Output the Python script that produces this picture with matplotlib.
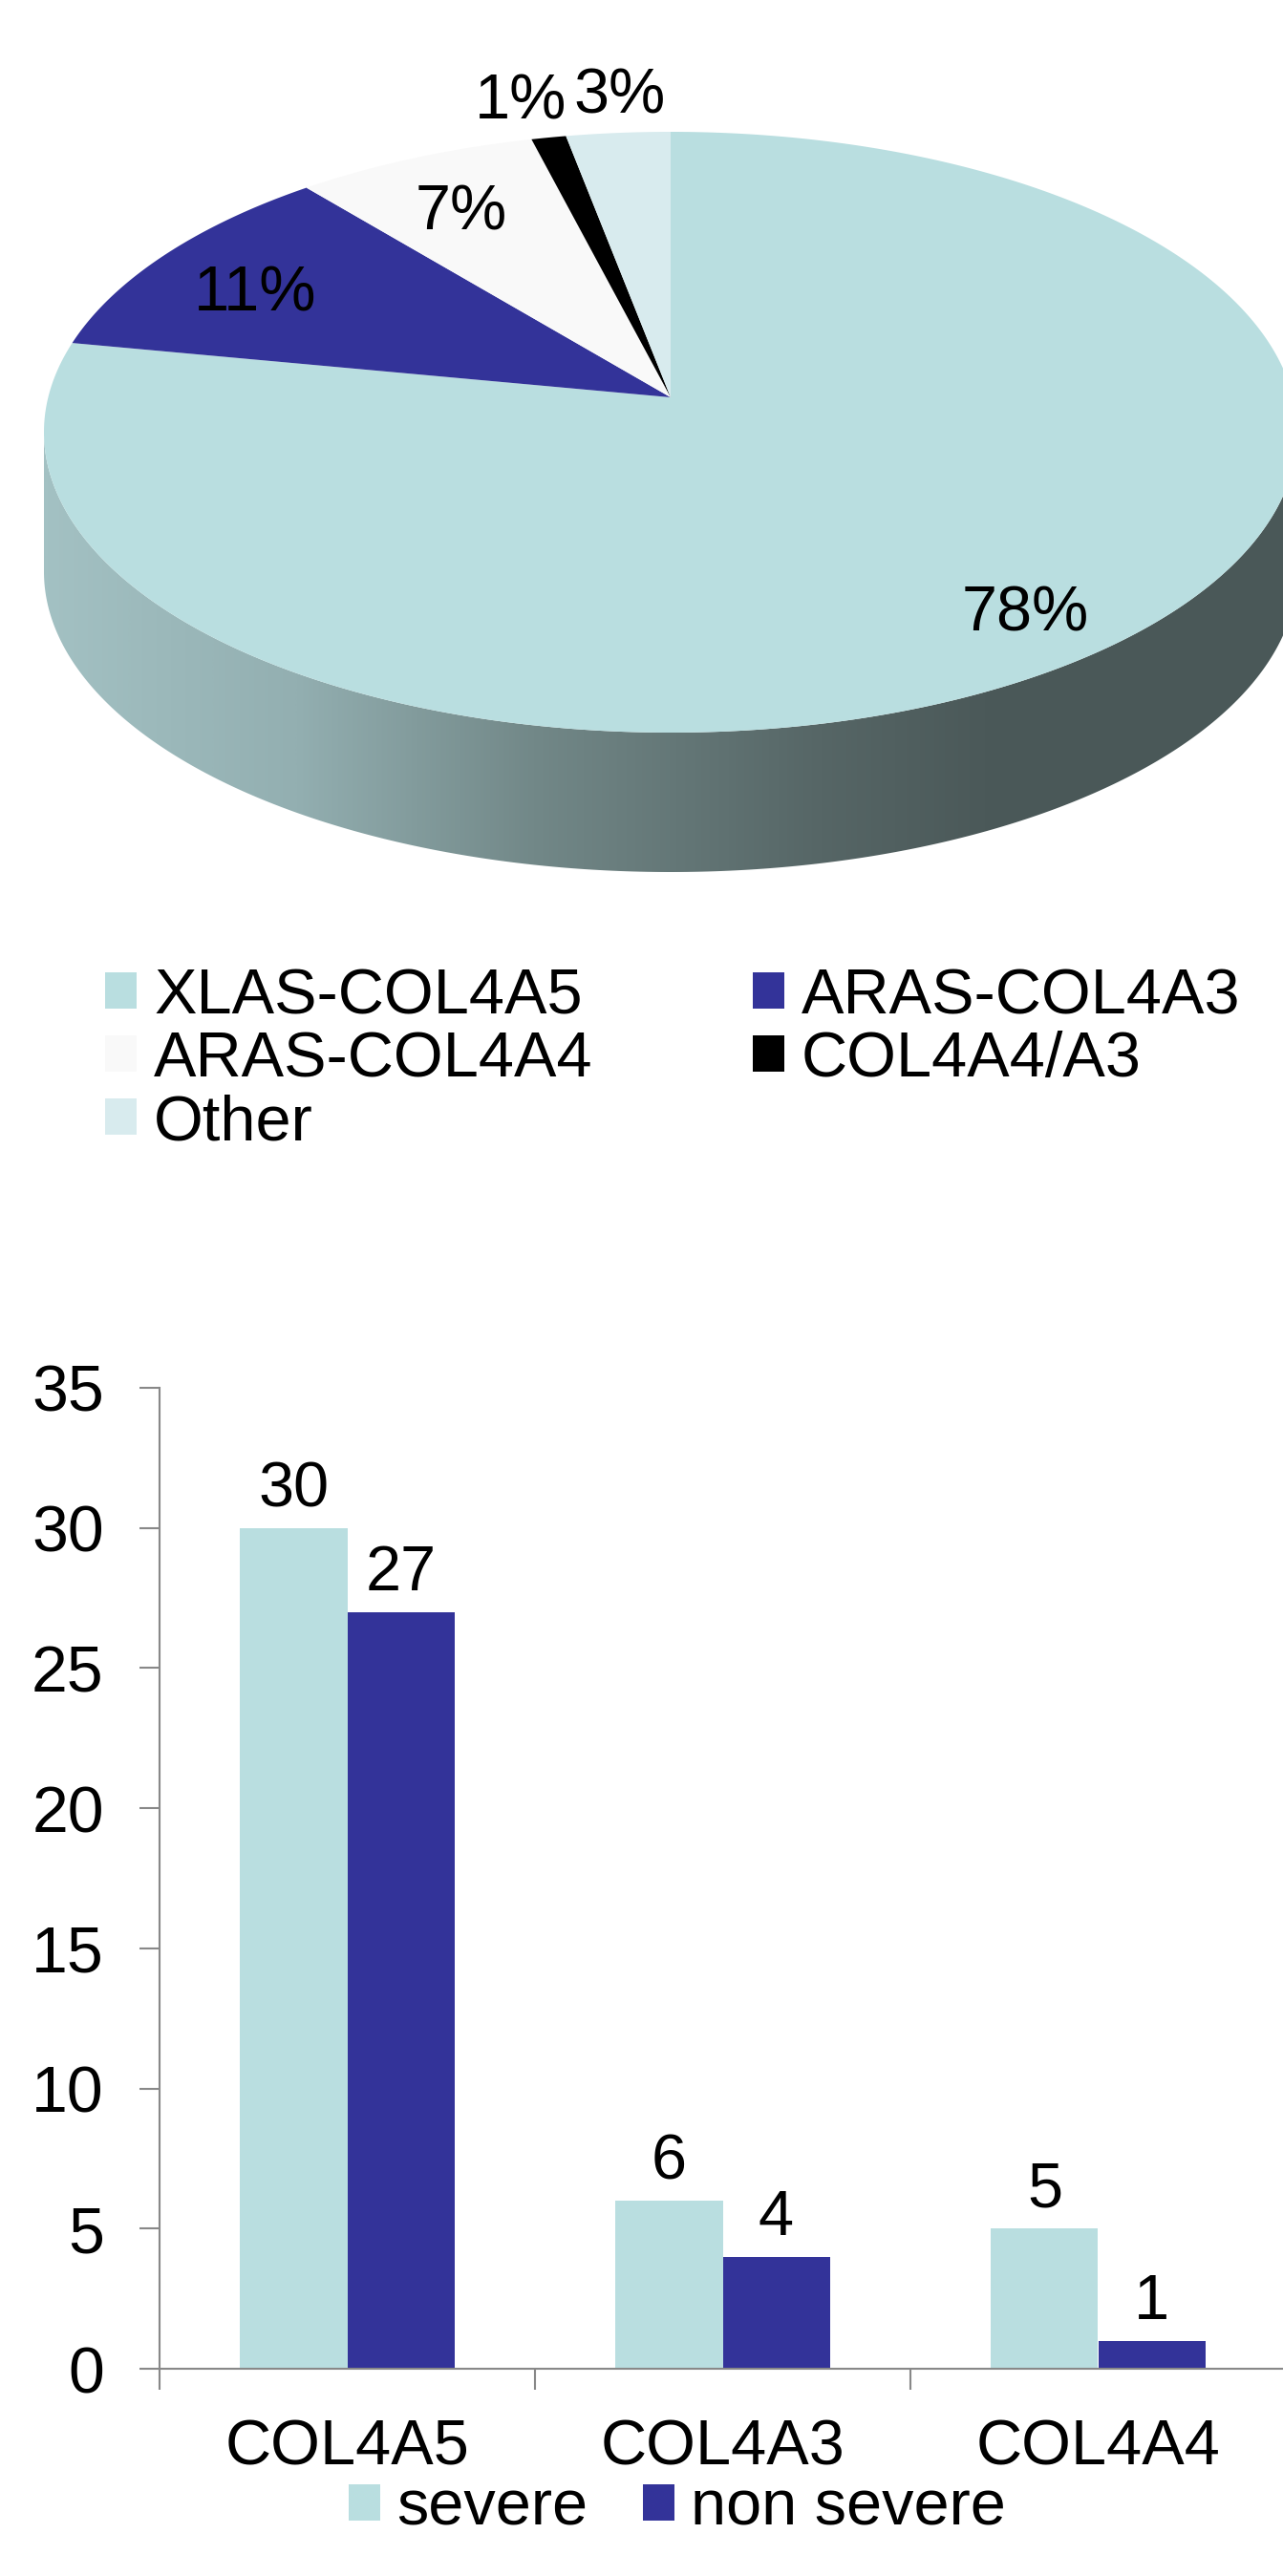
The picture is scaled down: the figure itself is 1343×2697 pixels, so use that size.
import numpy as np
import matplotlib
matplotlib.use('Agg')
import matplotlib.pyplot as plt
from matplotlib.patches import Patch, Polygon
from matplotlib.colors import LinearSegmentedColormap
from matplotlib.transforms import Transform
from matplotlib.path import Path

# ---------------- data ----------------
pie_labels = ['XLAS-COL4A5', 'ARAS-COL4A3', 'ARAS-COL4A4', 'COL4A4/A3', 'Other']
pie_values = [78, 11, 7, 1, 3]
pie_colors = ['#B9DEE0', '#333399', '#F9F9F9', '#000000', '#D8EBEE']

bar_categories = ['COL4A5', 'COL4A3', 'COL4A4']
severe = [30, 6, 5]
non_severe = [27, 4, 1]
bar_series = ['severe', 'non severe']
bar_colors = ['#B9DEE0', '#333399']
y_ticks = [0, 5, 10, 15, 20, 25, 30, 35]

plt.rcParams['font.family'] = ['Liberation Sans', 'DejaVu Sans']

W, H = 1343, 2697
fig = plt.figure(figsize=(W / 100, H / 100), dpi=100)


def fig_box(left, top, right, bottom):
    return [left / W, 1 - bottom / H, (right - left) / W, (bottom - top) / H]


# ---------------- pie geometry (pixel space, y downward) ----------------
apex_x, apex_y = 702, 416
rim_top, rim_bot, half_w, depth = 138, 767, 656, 146
pc = (2 * apex_y - rim_top - rim_bot) / (rim_top - rim_bot)
pa = rim_top * (1 + pc) - apex_y
pk = half_w * np.sqrt(1 - pc ** 2)


def project(xy):
    v = np.asarray(xy, float).reshape(-1, 2)
    den = 1 + pc * v[:, 1]
    return np.column_stack([apex_x + pk * v[:, 0] / den, (pa * v[:, 1] + apex_y) / den])


class PieView(Transform):
    input_dims = 2
    output_dims = 2
    is_separable = False
    has_inverse = False

    def transform_non_affine(self, values):
        return project(values)

    def transform_path_non_affine(self, path):
        verts, codes = [], []
        for seg, code in path.iter_bezier():
            cp = seg.control_points
            if code == Path.MOVETO:
                verts.append(cp[0])
                codes.append(Path.MOVETO)
            elif code == Path.CLOSEPOLY or code == Path.LINETO:
                verts.append(cp[-1])
                codes.append(Path.LINETO)
            else:
                pts = seg(np.linspace(0, 1, 40)[1:])
                verts.extend(pts)
                codes.extend([Path.LINETO] * len(pts))
        return Path(project(np.array(verts)), codes)


pie_top, pie_bottom = 0, 1000
ax = fig.add_axes(fig_box(0, pie_top, W, pie_bottom))
wedges, texts, autotexts = ax.pie(
    pie_values, colors=pie_colors, startangle=90, counterclock=False,
    autopct='%.0f%%', pctdistance=0.82,
    wedgeprops=dict(linewidth=0, zorder=2),
    textprops=dict(fontsize=48, color='black'))
view = PieView() + ax.transData
for w in wedges:
    w.set_transform(view)

outside = []
for w, txt, v in zip(wedges, autotexts, pie_values):
    mid = np.deg2rad((w.theta1 + w.theta2) / 2)
    r = 1.17 if v < 5 else 0.82
    px, py = project([r * np.cos(mid), r * np.sin(mid)])[0]
    if v < 5:
        outside.append([txt, px, py])
    else:
        txt.set_position((px + 4, py + 16))
    txt.set_zorder(5)

# spread the small outside labels so they don't collide
outside.sort(key=lambda e: e[1])
min_gap = 103
for i in range(1, len(outside)):
    gap = outside[i][1] - outside[i - 1][1]
    if gap < min_gap:
        shift = (min_gap - gap) / 2
        outside[i - 1][1] -= shift
        outside[i][1] += shift
for txt, px, py in outside:
    txt.set_position((px, py + 4))

# side of the cylinder
s0 = np.arcsin(pc)
tt = np.linspace(np.pi + s0, 2 * np.pi - s0, 300)
rim = project(np.column_stack([np.cos(tt), np.sin(tt)]))
low = rim[::-1] + np.array([0, depth])
side = Polygon(np.vstack([rim, low]), closed=True, facecolor='none',
               edgecolor='none', transform=ax.transData)
ax.add_patch(side)
side_cmap = LinearSegmentedColormap.from_list(
    'side', [(0.0, '#A3C1C3'), (0.2, '#93AFB1'), (0.39, '#728888'),
             (0.62, '#566666'), (0.75, '#4B5959'), (1.0, '#4A5858')])
grad = np.linspace(0, 1, 512).reshape(1, -1)
x_left = rim[:, 0].min()
x_right = rim[:, 0].max()
im = ax.imshow(grad, cmap=side_cmap,
               extent=[x_left, x_right, rim[:, 1].max() + depth + 5, apex_y],
               aspect='auto', zorder=1, interpolation='bilinear')
im.set_clip_path(side)

ax.set_aspect('auto')
ax.set_xlim(0, W)
ax.set_ylim(pie_bottom, pie_top)
ax.axis('off')

order = [0, 2, 4, 1, 3]
fig.legend([Patch(facecolor=pie_colors[i], edgecolor='none') for i in order],
           [pie_labels[i] for i in order], ncol=2, loc='upper left',
           bbox_to_anchor=(110 / W, 1 - 1013 / H), frameon=False, fontsize=48,
           handlelength=0.5, handleheight=0.5, handletextpad=0.27,
           columnspacing=2.5, labelspacing=0.06, borderpad=0, borderaxespad=0)

# ---------------- bar chart ----------------
bx = fig.add_axes(fig_box(167, 1453, W, 2480))
x = np.arange(len(bar_categories))
bw = 0.285
b1 = bx.bar(x - bw / 2, severe, bw, color=bar_colors[0], label=bar_series[0])
b2 = bx.bar(x + bw / 2, non_severe, bw, color=bar_colors[1], label=bar_series[1])
bx.bar_label(b1, padding=6, fontsize=48)
bx.bar_label(b2, padding=6, fontsize=48)
bx.set_xlim(-0.5, -0.5 + (W - 167) / 393)
bx.set_ylim(0, 35)
bx.set_yticks(y_ticks)
bx.set_xticks(np.arange(len(bar_categories)) - 0.5)
bx.set_xticklabels([])
bx.set_xticks(x, minor=True)
bx.set_xticklabels(bar_categories, minor=True)
bx.tick_params(axis='x', which='major', length=16, width=1.5, direction='out', color='#888888')
bx.tick_params(axis='x', which='minor', length=0, pad=38, labelsize=48)
bx.tick_params(axis='y', length=15, width=1.5, color='#888888', labelsize=49, pad=27)
for s in ['top', 'right']:
    bx.spines[s].set_visible(False)
for s in ['left', 'bottom']:
    bx.spines[s].set_color('#888888')
    bx.spines[s].set_linewidth(1.5)

fig.legend([Patch(facecolor=c, edgecolor='none') for c in bar_colors], bar_series,
           ncol=2, loc='center left', bbox_to_anchor=(365 / W, 1 - 2627 / H),
           frameon=False, fontsize=48, handlelength=0.5, handleheight=0.5,
           handletextpad=0.25, columnspacing=0.87, borderpad=0, borderaxespad=0)

fig.savefig('out.png', dpi=100)
